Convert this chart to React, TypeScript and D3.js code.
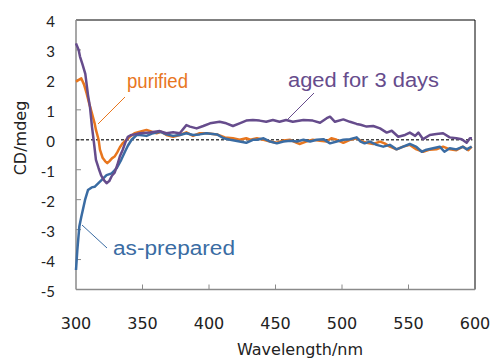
import React from "react";
import * as d3 from "d3";

const xTicks = [300, 350, 400, 450, 500, 550, 600];
const yTicks = [4, 3, 2, 1, 0, -1, -2, -3, -4, -5];

// [wavelength (nm), CD (mdeg)]
const purified: [number, number][] = [
  [300, 1.94], [302, 2.0], [304, 2.05], [306, 1.85], [308, 1.55], [310, 1.2], [312, 0.88],
  [314, 0.55], [315, 0.33], [317, 0.0], [318, -0.33], [320, -0.6], [322, -0.72], [323.5, -0.78],
  [325, -0.72], [327, -0.62], [329, -0.56], [331, -0.42], [333, -0.25], [335, -0.12], [338, 0.0],
  [341, 0.12], [344, 0.22], [348, 0.27], [353, 0.33], [357, 0.27], [360.6, 0.22], [364, 0.27],
  [368, 0.16], [373, 0.1], [378, 0.16], [383, 0.25], [388, 0.13], [393, 0.22], [398, 0.22],
  [406, 0.18], [412, 0.08], [418, 0.05], [423, 0.0], [428, 0.05], [431, 0.0], [436, 0.05],
  [441, 0.0], [446, -0.06], [451, -0.1], [456, -0.02], [461, 0.0], [466, -0.1], [468, -0.14],
  [473, -0.06], [478, 0.0], [483.5, -0.03], [488.5, -0.06], [492, 0.05], [496, 0.0], [501, -0.1],
  [506, 0.0], [511, 0.05], [515, -0.06], [518.5, -0.1], [523.5, -0.14], [528.6, -0.06],
  [532, -0.12], [536, -0.23], [541, -0.32], [546, -0.23], [551, -0.17], [556, -0.32], [561, -0.4],
  [566, -0.33], [571, -0.32], [576, -0.23], [581, -0.32], [586, -0.35], [591, -0.23], [595, -0.35],
  [597.5, -0.23],
];

const asPrepared: [number, number][] = [
  [300, -4.35], [301, -3.68], [302.5, -2.9], [304, -2.57], [306.8, -2.01], [309, -1.68],
  [311.8, -1.59], [314, -1.57], [318, -1.4], [320.5, -1.29], [323, -1.18], [326.8, -1.12],
  [330.6, -0.95], [334, -0.67], [336.8, -0.4], [339, -0.2], [341.8, 0.0], [345.6, 0.16],
  [348, 0.16], [353, 0.13], [358, 0.22], [363, 0.27], [368, 0.18], [373, 0.13], [378, 0.16],
  [383, 0.22], [388, 0.16], [393, 0.18], [398, 0.22], [406, 0.18], [411, 0.05], [416, 0.0],
  [423, -0.06], [428, -0.1], [433, 0.0], [436, 0.0], [441, 0.05], [446, -0.06], [451, -0.12],
  [456, -0.06], [461, -0.03], [466, -0.06], [471, 0.0], [476, -0.06], [481, 0.0], [486, 0.02],
  [491, -0.12], [496, -0.06], [501, 0.0], [506, 0.02], [511, 0.08], [514, -0.06], [517, -0.12],
  [521, -0.06], [526, -0.17], [531, -0.23], [536, -0.17], [541, -0.32], [546, -0.23],
  [551, -0.14], [556, -0.24], [560, -0.4], [563.5, -0.33], [568.5, -0.28], [573.5, -0.23],
  [577, -0.4], [581, -0.28], [586, -0.32], [591, -0.23], [593.7, -0.32], [597.5, -0.23],
];

const aged: [number, number][] = [
  [300, 3.22], [302, 3.0], [303, 2.78], [305, 2.5], [307, 2.2], [309, 1.5], [310.5, 1.1],
  [312, 0.44], [313.5, -0.1], [315, -0.67], [317, -0.95], [319, -1.2], [321, -1.35], [323, -1.45],
  [325, -1.38], [327, -1.2], [329, -1.1], [331, -0.85], [333, -0.55], [335, -0.35], [337, -0.1],
  [339, 0.1], [341, 0.15], [344, 0.18], [348, 0.22], [355.6, 0.24], [363, 0.29], [368, 0.22],
  [373, 0.25], [378, 0.22], [383, 0.49], [385.7, 0.44], [390.7, 0.38], [395.7, 0.46],
  [400.8, 0.55], [408, 0.6], [413, 0.55], [418, 0.46], [423, 0.55], [428, 0.64], [433, 0.66],
  [438, 0.64], [443, 0.6], [448, 0.66], [453, 0.6], [458, 0.66], [463, 0.6], [471, 0.66],
  [478, 0.64], [483.5, 0.57], [488.5, 0.72], [491, 0.77], [494.7, 0.6], [501, 0.68], [506, 0.6],
  [511, 0.53], [514, 0.5], [518.5, 0.44], [523.5, 0.46], [528.6, 0.38], [533.6, 0.24],
  [537.4, 0.3], [542.3, 0.1], [547.4, 0.16], [551, 0.24], [555, 0.13], [557.4, 0.24], [561, 0.02],
  [566, 0.16], [571, 0.19], [576, 0.22], [581, 0.08], [586, 0.05], [590, 0.02], [593.7, -0.1],
  [596.2, 0.05], [597.7, 0.05],
];

const COLORS = { purified: "#E8761E", asPrepared: "#3A6CA3", aged: "#664C8C" };

export default function App() {
  const W = 492, H = 363;
  const left = 76, right = 475, top = 20, bottom = 289.5;
  const x = d3.scaleLinear().domain([300, 600]).range([left, right]);
  const y = d3.scaleLinear().domain([-5, 4]).range([bottom, top]);
  const line = d3.line<[number, number]>().x((d) => x(d[0])).y((d) => y(d[1])).curve(d3.curveLinear);
  const axisGray = "#8a8a8a";

  return (
    <svg width={W} height={H} style={{ position: "absolute", left: 0, top: 0, background: "#fff" }}>
      <rect x={0} y={0} width={W} height={H} fill="#fff" />
      {/* frame */}
      <line x1={left} y1={top} x2={right} y2={top} stroke="#000" strokeWidth={1} />
      <line x1={right} y1={top} x2={right} y2={bottom} stroke="#000" strokeWidth={1} />
      <line x1={left} y1={top} x2={left} y2={bottom} stroke={axisGray} strokeWidth={1.5} />
      <line x1={left} y1={bottom} x2={right} y2={bottom} stroke={axisGray} strokeWidth={1.5} />
      {/* y ticks */}
      {yTicks.map((t) => (
        <g key={"y" + t}>
          {t !== 4 && t !== -5 && (
            <line x1={left} x2={left + 5} y1={y(t)} y2={y(t)} stroke={axisGray} strokeWidth={1} />
          )}
          <text x={55} y={y(t) + 1} textAnchor="end" dominantBaseline="central"
            fontFamily="Lato, 'Open Sans', sans-serif" fontSize={15} fill="#222">
            {t}
          </text>
        </g>
      ))}
      {/* x ticks */}
      {xTicks.map((t) => (
        <g key={"x" + t}>
          {t !== 300 && t !== 600 && (
            <line x1={x(t)} x2={x(t)} y1={bottom} y2={bottom - 5} stroke={axisGray} strokeWidth={1} />
          )}
          <text x={x(t)} y={329} textAnchor="middle"
            fontFamily="'DejaVu Sans', sans-serif" fontSize={16} fill="#222">
            {t}
          </text>
        </g>
      ))}
      <text x={300} y={355} textAnchor="middle" fontFamily="'DejaVu Sans', sans-serif" fontSize={16} fill="#222">
        Wavelength/nm
      </text>
      <text transform={`translate(26,138) rotate(-90)`} textAnchor="middle"
        fontFamily="'DejaVu Sans', sans-serif" fontSize={16} fill="#222">
        CD/mdeg
      </text>
      {/* zero dashed line */}
      <line x1={x(300)} x2={x(598)} y1={y(0)} y2={y(0)} stroke="#444" strokeWidth={1.6} strokeDasharray="3,2" />
      {/* series */}
      <path d={line(purified) || ""} fill="none" stroke={COLORS.purified} strokeWidth={2.5} strokeLinejoin="round" />
      <path d={line(asPrepared) || ""} fill="none" stroke={COLORS.asPrepared} strokeWidth={2.5} strokeLinejoin="round" />
      <path d={line(aged) || ""} fill="none" stroke={COLORS.aged} strokeWidth={2.5} strokeLinejoin="round" />
      {/* labels */}
      <line x1={125} y1={97} x2={98} y2={124} stroke={COLORS.purified} strokeWidth={1} />
      <text x={127} y={88} fontFamily="'Liberation Sans', Arial, sans-serif" fontSize={20}
        fill={COLORS.purified} textLength={61} lengthAdjust="spacingAndGlyphs">purified</text>
      <line x1={314} y1={93} x2={287} y2={120} stroke={COLORS.aged} strokeWidth={1} />
      <text x={288} y={86.5} fontFamily="'Liberation Sans', Arial, sans-serif" fontSize={20}
        fill={COLORS.aged} textLength={151} lengthAdjust="spacingAndGlyphs">aged for 3 days</text>
      <line x1={82} y1={225} x2={107} y2={248} stroke={COLORS.asPrepared} strokeWidth={1} />
      <text x={113} y={255} fontFamily="'Liberation Sans', Arial, sans-serif" fontSize={20}
        fill={COLORS.asPrepared} textLength={122} lengthAdjust="spacingAndGlyphs">as-prepared</text>
    </svg>
  );
}
